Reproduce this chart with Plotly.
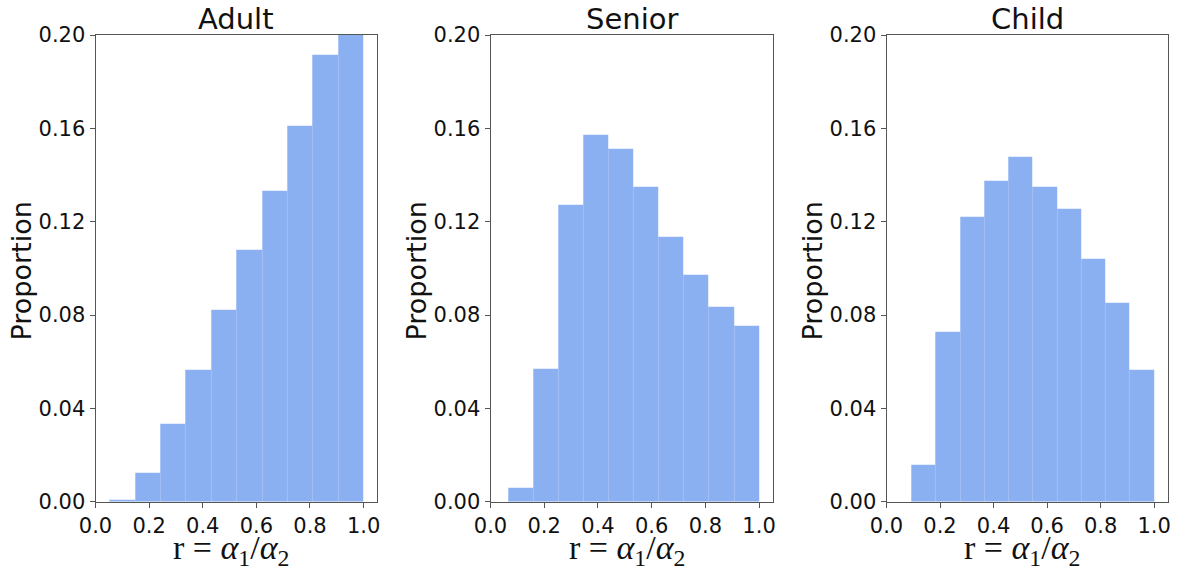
import numpy as np
import plotly.graph_objects as go

# Histogram of r = alpha1/alpha2 per age group: 10 equal-width bins from the
# group's lowest r up to 1.0, heights are proportions of the group.
groups = ["Adult", "Senior", "Child"]
bin_low = [0.053, 0.067, 0.094]
bin_high = 1.0
adult_prop = [0.0008, 0.0125, 0.0334, 0.0563, 0.082, 0.108, 0.133, 0.161, 0.1916, 0.2214]
senior_prop = [0.0059, 0.0567, 0.1273, 0.157, 0.151, 0.1347, 0.1136, 0.0972, 0.0834, 0.0752]
child_prop = [0.0158, 0.0727, 0.122, 0.1373, 0.1477, 0.1347, 0.1256, 0.104, 0.085, 0.0564]
proportions = [adult_prop, senior_prop, child_prop]

y_ticks = [0.0, 0.04, 0.08, 0.12, 0.16, 0.20]
x_ticks = [0.0, 0.2, 0.4, 0.6, 0.8, 1.0]

W, H = 1185, 570
x_domains = [(95.5, 377.0), (490.5, 772.5), (886.5, 1167.5)]
y_px = (35.0, 501.7)  # top, bottom of the plot areas

bar_color = "rgba(100,149,237,0.75)"
tick_font = dict(family="DejaVu Sans", size=21, color="#111")
axis_color = "#555"

fig = go.Figure()
layout = dict(
    width=W, height=H,
    margin=dict(l=0, r=0, t=0, b=0, autoexpand=False),
    paper_bgcolor="white", plot_bgcolor="white",
    showlegend=False, bargap=0,
    annotations=[],
)

for i, (name, props, lo) in enumerate(zip(groups, proportions, bin_low)):
    edges = np.linspace(lo, bin_high, len(props) + 1)
    centers = (edges[:-1] + edges[1:]) / 2
    widths = np.diff(edges)
    xa = "x" if i == 0 else f"x{i+1}"
    ya = "y" if i == 0 else f"y{i+1}"
    fig.add_trace(go.Bar(
        x=centers, y=props, width=widths,
        marker=dict(color=bar_color, line=dict(color="rgba(255,255,255,0.12)", width=0.5)),
        xaxis=xa, yaxis=ya, hoverinfo="x+y",
    ))
    key = "" if i == 0 else str(i + 1)
    x0, x1 = x_domains[i]
    layout["xaxis" + key] = dict(
        domain=[x0 / W, x1 / W], anchor=ya, range=[0, 1.05],
        tickmode="array", tickvals=x_ticks, ticktext=[f"{v:.1f}" for v in x_ticks],
        ticks="outside", ticklen=5, tickcolor=axis_color, tickfont=tick_font,
        showline=True, linecolor=axis_color, linewidth=1, mirror=True,
        showgrid=False, zeroline=False, fixedrange=True, automargin=False,
    )
    layout["yaxis" + key] = dict(
        domain=[1 - y_px[1] / H, 1 - y_px[0] / H], anchor=xa, range=[0, 0.2],
        tickmode="array", tickvals=y_ticks, ticktext=[f"{v:.2f}" for v in y_ticks],
        ticks="outside", ticklen=5, tickcolor=axis_color, tickfont=tick_font,
        showline=True, linecolor=axis_color, linewidth=1, mirror=True,
        showgrid=False, zeroline=False, fixedrange=True, automargin=False,
    )
    cx = (x0 + x1) / 2 / W
    # panel title
    layout["annotations"].append(dict(
        text=name, x=cx, y=1 - 19 / H, xref="paper", yref="paper",
        xanchor="center", yanchor="middle", showarrow=False,
        font=dict(family="DejaVu Sans", size=29, color="#111"),
    ))
    # y-axis label
    layout["annotations"].append(dict(
        text="Proportion", x=(x0 - 74) / W, y=1 - 271 / H, xref="paper", yref="paper",
        xanchor="center", yanchor="middle", textangle=-90, showarrow=False,
        font=dict(family="DejaVu Sans", size=27, color="#111"),
    ))
    # x-axis label
    layout["annotations"].append(dict(
        text="r = <i>α</i><sub>1</sub>/<i>α</i><sub>2</sub>",
        x=cx - 5 / W, y=1 - 550 / H, xref="paper", yref="paper",
        xanchor="center", yanchor="middle", showarrow=False,
        font=dict(family="Liberation Serif", size=34, color="#111"),
    ))

fig.update_layout(**layout)
fig.write_html("out.html")
